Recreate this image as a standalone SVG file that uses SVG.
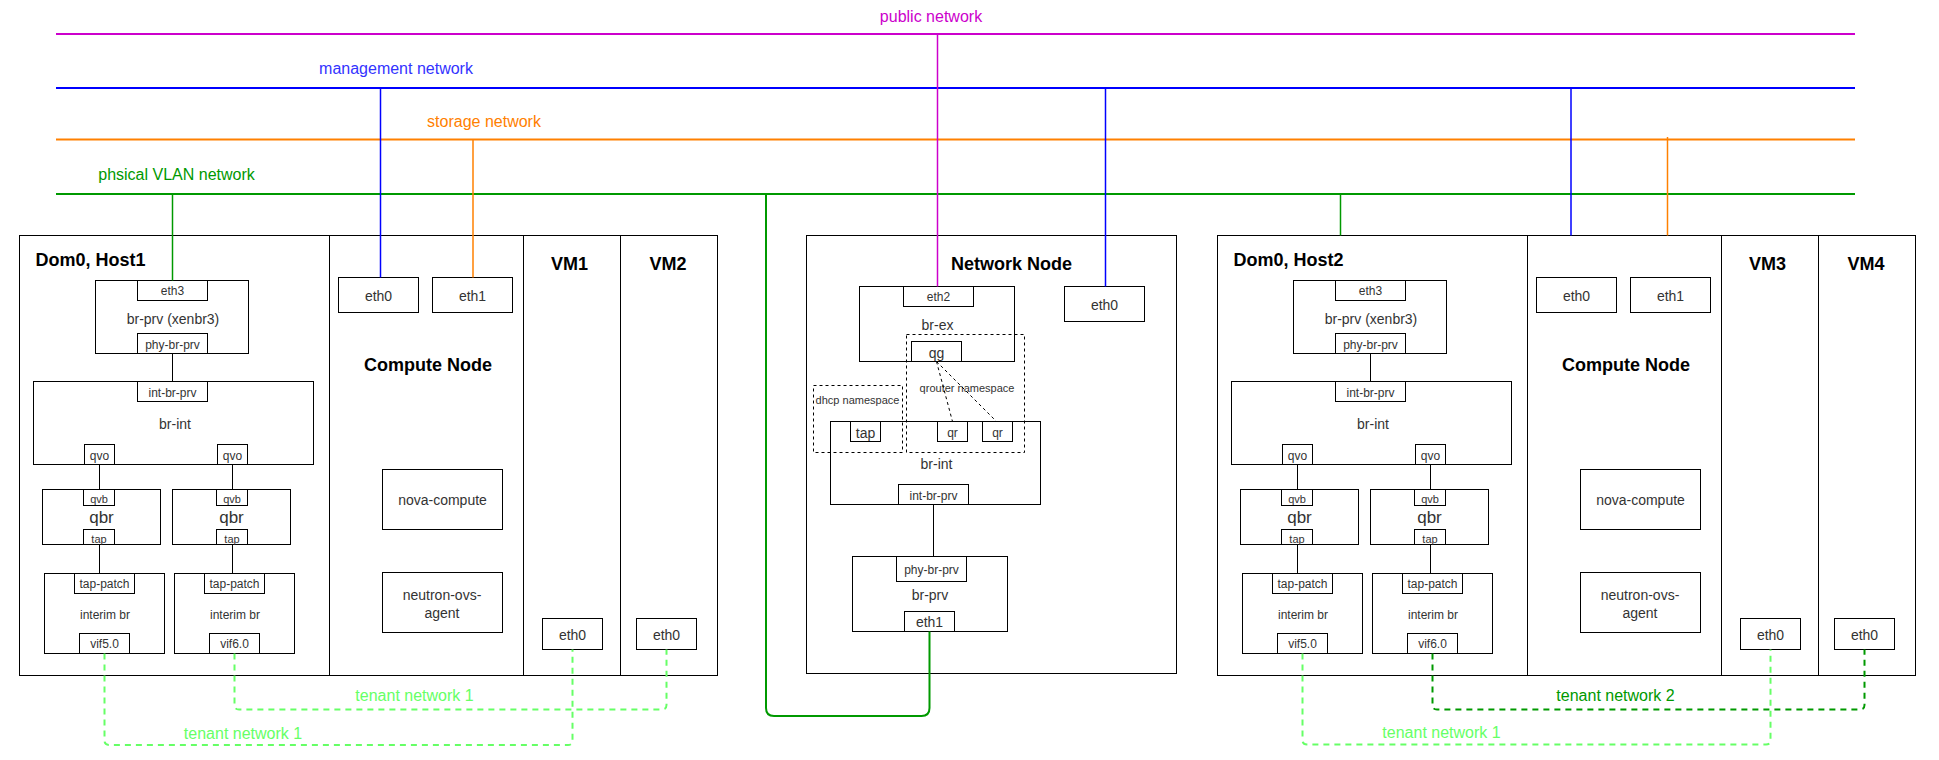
<svg xmlns="http://www.w3.org/2000/svg" width="1939" height="760" viewBox="0 0 1939 760">
<style>
.box{fill:#fff;stroke:#000;stroke-width:1}
.ns{fill:none;stroke:#000;stroke-width:1;stroke-dasharray:3 3}
.t{font-family:"Liberation Sans",Arial,sans-serif;fill:#333;text-anchor:middle;dominant-baseline:central;font-size:14px}
.p{font-size:12px}
.sm{font-size:11px}
.q{font-size:17px}
.h{font-size:18px;font-weight:bold;fill:#000}
.bus{font-size:16px}
.c{fill:none;stroke:#000;stroke-width:1}
.tn1{fill:none;stroke:#66FF66;stroke-width:2;stroke-dasharray:6 5}
.tn2{fill:none;stroke:#009900;stroke-width:2;stroke-dasharray:6 5}
</style>
<rect width="1939" height="760" fill="#fff"/>

<!-- Host 1 -->
<g id="host1-dom0">
<rect class="box" x="19.5" y="235.5" width="310" height="440"/>
<text class="t h" x="35.5" y="260" style="text-anchor:start">Dom0, Host1</text>
</g>
<g id="host1-compute">
<rect class="box" x="329.5" y="235.5" width="194" height="440"/>
<text class="t h" x="428" y="365">Compute Node</text>
</g>
<g id="host1-vm1">
<rect class="box" x="523.5" y="235.5" width="97" height="440"/>
<text class="t h" x="569.5" y="264">VM1</text>
</g>
<g id="host1-vm2">
<rect class="box" x="620.5" y="235.5" width="97" height="440"/>
<text class="t h" x="668" y="264">VM2</text>
</g>
<g id="h1-br-prv">
<rect class="box" x="95.5" y="280.5" width="153" height="73"/>
<text class="t" x="173" y="318.5">br-prv (xenbr3)</text>
<rect class="box" x="137.5" y="280.5" width="70" height="20"/>
<text class="t p" x="172.5" y="291">eth3</text>
<rect class="box" x="137.5" y="333.5" width="70" height="20"/>
<text class="t p" x="172.5" y="344.5">phy-br-prv</text>
</g>
<g id="h1-br-int">
<rect class="box" x="33.5" y="381.5" width="280" height="83"/>
<text class="t" x="175" y="424">br-int</text>
<rect class="box" x="137.5" y="381.5" width="70" height="20"/>
<text class="t p" x="172.5" y="392.5">int-br-prv</text>
<rect class="box" x="84.5" y="444.5" width="30" height="20"/>
<text class="t p" x="99.5" y="455.5">qvo</text>
<rect class="box" x="217.5" y="444.5" width="30" height="20"/>
<text class="t p" x="232.5" y="455.5">qvo</text>
</g>
<g id="h1-qbr1">
<rect class="box" x="42.5" y="489.5" width="118" height="55"/>
<text class="t q" x="101.5" y="517.5">qbr</text>
<rect class="box" x="83.5" y="489.5" width="31" height="16"/>
<text class="t sm" x="99" y="498.5">qvb</text>
<rect class="box" x="83.5" y="529.5" width="31" height="15"/>
<text class="t sm" x="99" y="538.5">tap</text>
</g>
<g id="h1-qbr2">
<rect class="box" x="172.5" y="489.5" width="118" height="55"/>
<text class="t q" x="231.5" y="517.5">qbr</text>
<rect class="box" x="216.5" y="489.5" width="31" height="16"/>
<text class="t sm" x="232" y="498.5">qvb</text>
<rect class="box" x="216.5" y="529.5" width="31" height="15"/>
<text class="t sm" x="232" y="538.5">tap</text>
</g>
<g id="h1-interim1">
<rect class="box" x="44.5" y="573.5" width="120" height="80"/>
<text class="t p" x="105" y="615">interim br</text>
<rect class="box" x="74.5" y="573.5" width="60" height="20"/>
<text class="t p" x="104.5" y="584">tap-patch</text>
<rect class="box" x="79.5" y="633.5" width="50" height="20"/>
<text class="t p" x="104.5" y="644">vif5.0</text>
</g>
<g id="h1-interim2">
<rect class="box" x="174.5" y="573.5" width="120" height="80"/>
<text class="t p" x="235" y="615">interim br</text>
<rect class="box" x="204.5" y="573.5" width="60" height="20"/>
<text class="t p" x="234.5" y="584">tap-patch</text>
<rect class="box" x="209.5" y="633.5" width="50" height="20"/>
<text class="t p" x="234.5" y="644">vif6.0</text>
</g>
<g id="h1-eth0">
<rect class="box" x="338.5" y="277.5" width="80" height="35"/>
<text class="t" x="378.5" y="296">eth0</text>
</g>
<g id="h1-eth1">
<rect class="box" x="432.5" y="277.5" width="80" height="35"/>
<text class="t" x="472.5" y="296">eth1</text>
</g>
<g id="h1-nova">
<rect class="box" x="382.5" y="469.5" width="120" height="60"/>
<text class="t" x="442.5" y="500">nova-compute</text>
</g>
<g id="h1-neutron">
<rect class="box" x="382.5" y="572.5" width="120" height="60"/>
<text class="t" x="442" y="594.5">neutron-ovs-</text>
<text class="t" x="442" y="612.5">agent</text>
</g>
<g id="vm1-eth0">
<rect class="box" x="542.5" y="618.5" width="60" height="31"/>
<text class="t" x="572.5" y="635">eth0</text>
</g>
<g id="vm2-eth0">
<rect class="box" x="636.5" y="618.5" width="60" height="31"/>
<text class="t" x="666.5" y="635">eth0</text>
</g>

<!-- Network Node -->
<g id="network-node">
<rect class="box" x="806.5" y="235.5" width="370" height="438"/>
<text class="t h" x="1011.5" y="263.5">Network Node</text>
</g>
<g id="nn-br-ex">
<rect class="box" x="859.5" y="286.5" width="155" height="75"/>
<text class="t" x="937.5" y="325">br-ex</text>
<rect class="box" x="903.5" y="286.5" width="70" height="20"/>
<text class="t p" x="938.5" y="297">eth2</text>
<rect class="box" x="911.5" y="341.5" width="50" height="20"/>
<text class="t" x="936.5" y="352.5">qg</text>
</g>
<g id="nn-br-int">
<rect class="box" x="830.5" y="421.5" width="210" height="83"/>
<text class="t" x="936.5" y="464">br-int</text>
<rect class="box" x="850.5" y="421.5" width="30" height="20"/>
<text class="t" x="865.5" y="432.5">tap</text>
<rect class="box" x="937.5" y="421.5" width="30" height="20"/>
<text class="t p" x="952.5" y="432.5">qr</text>
<rect class="box" x="982.5" y="421.5" width="30" height="20"/>
<text class="t p" x="997.5" y="432.5">qr</text>
<rect class="box" x="898.5" y="484.5" width="70" height="20"/>
<text class="t p" x="933.5" y="495.5">int-br-prv</text>
</g>
<g id="nn-br-prv">
<rect class="box" x="852.5" y="556.5" width="155" height="75"/>
<text class="t" x="930" y="595">br-prv</text>
<rect class="box" x="896.5" y="556.5" width="70" height="25"/>
<text class="t p" x="931.5" y="570">phy-br-prv</text>
<rect class="box" x="904.5" y="611.5" width="50" height="20"/>
<text class="t" x="929.5" y="622">eth1</text>
</g>
<g id="nn-eth0">
<rect class="box" x="1064.5" y="286.5" width="80" height="35"/>
<text class="t" x="1104.5" y="305">eth0</text>
</g>
<g id="qrouter-namespace">
<rect class="ns" x="906.5" y="334.5" width="118" height="118"/>
<text class="t sm" x="967" y="387.5">qrouter namespace</text>
</g>
<g id="dhcp-namespace">
<rect class="ns" x="813.5" y="385.5" width="89" height="67"/>
<text class="t sm" x="857.5" y="399.5">dhcp namespace</text>
</g>

<!-- Host 2 -->
<g transform="translate(1198 0)">
<g id="host2-dom0">
<rect class="box" x="19.5" y="235.5" width="310" height="440"/>
<text class="t h" x="35.5" y="260" style="text-anchor:start">Dom0, Host2</text>
</g>
<g id="host2-compute">
<rect class="box" x="329.5" y="235.5" width="194" height="440"/>
<text class="t h" x="428" y="365">Compute Node</text>
</g>
<g id="host2-vm3">
<rect class="box" x="523.5" y="235.5" width="97" height="440"/>
<text class="t h" x="569.5" y="264">VM3</text>
</g>
<g id="host2-vm4">
<rect class="box" x="620.5" y="235.5" width="97" height="440"/>
<text class="t h" x="668" y="264">VM4</text>
</g>
<g id="h2-br-prv">
<rect class="box" x="95.5" y="280.5" width="153" height="73"/>
<text class="t" x="173" y="318.5">br-prv (xenbr3)</text>
<rect class="box" x="137.5" y="280.5" width="70" height="20"/>
<text class="t p" x="172.5" y="291">eth3</text>
<rect class="box" x="137.5" y="333.5" width="70" height="20"/>
<text class="t p" x="172.5" y="344.5">phy-br-prv</text>
</g>
<g id="h2-br-int">
<rect class="box" x="33.5" y="381.5" width="280" height="83"/>
<text class="t" x="175" y="424">br-int</text>
<rect class="box" x="137.5" y="381.5" width="70" height="20"/>
<text class="t p" x="172.5" y="392.5">int-br-prv</text>
<rect class="box" x="84.5" y="444.5" width="30" height="20"/>
<text class="t p" x="99.5" y="455.5">qvo</text>
<rect class="box" x="217.5" y="444.5" width="30" height="20"/>
<text class="t p" x="232.5" y="455.5">qvo</text>
</g>
<g id="h2-qbr1">
<rect class="box" x="42.5" y="489.5" width="118" height="55"/>
<text class="t q" x="101.5" y="517.5">qbr</text>
<rect class="box" x="83.5" y="489.5" width="31" height="16"/>
<text class="t sm" x="99" y="498.5">qvb</text>
<rect class="box" x="83.5" y="529.5" width="31" height="15"/>
<text class="t sm" x="99" y="538.5">tap</text>
</g>
<g id="h2-qbr2">
<rect class="box" x="172.5" y="489.5" width="118" height="55"/>
<text class="t q" x="231.5" y="517.5">qbr</text>
<rect class="box" x="216.5" y="489.5" width="31" height="16"/>
<text class="t sm" x="232" y="498.5">qvb</text>
<rect class="box" x="216.5" y="529.5" width="31" height="15"/>
<text class="t sm" x="232" y="538.5">tap</text>
</g>
<g id="h2-interim1">
<rect class="box" x="44.5" y="573.5" width="120" height="80"/>
<text class="t p" x="105" y="615">interim br</text>
<rect class="box" x="74.5" y="573.5" width="60" height="20"/>
<text class="t p" x="104.5" y="584">tap-patch</text>
<rect class="box" x="79.5" y="633.5" width="50" height="20"/>
<text class="t p" x="104.5" y="644">vif5.0</text>
</g>
<g id="h2-interim2">
<rect class="box" x="174.5" y="573.5" width="120" height="80"/>
<text class="t p" x="235" y="615">interim br</text>
<rect class="box" x="204.5" y="573.5" width="60" height="20"/>
<text class="t p" x="234.5" y="584">tap-patch</text>
<rect class="box" x="209.5" y="633.5" width="50" height="20"/>
<text class="t p" x="234.5" y="644">vif6.0</text>
</g>
<g id="h2-eth0">
<rect class="box" x="338.5" y="277.5" width="80" height="35"/>
<text class="t" x="378.5" y="296">eth0</text>
</g>
<g id="h2-eth1">
<rect class="box" x="432.5" y="277.5" width="80" height="35"/>
<text class="t" x="472.5" y="296">eth1</text>
</g>
<g id="h2-nova">
<rect class="box" x="382.5" y="469.5" width="120" height="60"/>
<text class="t" x="442.5" y="500">nova-compute</text>
</g>
<g id="h2-neutron">
<rect class="box" x="382.5" y="572.5" width="120" height="60"/>
<text class="t" x="442" y="594.5">neutron-ovs-</text>
<text class="t" x="442" y="612.5">agent</text>
</g>
<g id="vm3-eth0">
<rect class="box" x="542.5" y="618.5" width="60" height="31"/>
<text class="t" x="572.5" y="635">eth0</text>
</g>
<g id="vm4-eth0">
<rect class="box" x="636.5" y="618.5" width="60" height="31"/>
<text class="t" x="666.5" y="635">eth0</text>
</g>
</g>

<!-- Network buses and connectors -->
<g id="connectors">
<line x1="56" y1="34" x2="1855" y2="34" stroke="#CC00CC" stroke-width="2"/>
<line x1="56" y1="88" x2="1855" y2="88" stroke="#0000FF" stroke-width="2"/>
<line x1="56" y1="139.5" x2="1855" y2="139.5" stroke="#FF8000" stroke-width="2"/>
<line x1="56" y1="194" x2="1855" y2="194" stroke="#009900" stroke-width="2"/>

<line x1="172.5" y1="194" x2="172.5" y2="280.5" stroke="#009900" stroke-width="1.5"/>
<line x1="380.5" y1="88" x2="380.5" y2="277.5" stroke="#0000FF" stroke-width="1.5"/>
<line x1="473" y1="139.5" x2="473" y2="277.5" stroke="#FF8000" stroke-width="1.5"/>
<line x1="937.5" y1="34" x2="937.5" y2="286.5" stroke="#CC00CC" stroke-width="1.5"/>
<line x1="1105.5" y1="88" x2="1105.5" y2="286.5" stroke="#0000FF" stroke-width="1.5"/>
<line x1="1340.5" y1="194" x2="1340.5" y2="235.5" stroke="#009900" stroke-width="1.5"/>
<line x1="1571" y1="88" x2="1571" y2="235.5" stroke="#0000FF" stroke-width="1.5"/>
<line x1="1667.5" y1="137" x2="1667.5" y2="235.5" stroke="#FF8000" stroke-width="1.5"/>
<path d="M766 194 V708 Q766 716 774 716 H921.5 Q929.5 716 929.5 708 V631.5" fill="none" stroke="#009900" stroke-width="2"/>

<path class="c" d="M172.5 353.5 V381.5 M99.5 464.5 V489.5 M232.5 464.5 V489.5 M99.5 544.5 V573.5 M232.5 544.5 V573.5"/>
<path class="c" d="M1370.5 353.5 V381.5 M1297.5 464.5 V489.5 M1430.5 464.5 V489.5 M1297.5 544.5 V573.5 M1430.5 544.5 V573.5"/>
<path class="c" d="M933.5 504.5 V556.5"/>
<path class="ns" d="M936.5 361.5 L952.5 421.5 M936.5 361.5 L996.5 421.5"/>

<path class="tn1" d="M234.5 653.5 V705 Q234.5 709.5 239 709.5 H662 Q666.5 709.5 666.5 705 V649.5"/>
<path class="tn1" d="M104.5 653.5 V740.5 Q104.5 745 109 745 H568 Q572.5 745 572.5 740.5 V649.5"/>
<path class="tn1" d="M1302.5 653.5 V740 Q1302.5 744.5 1307 744.5 H1766 Q1770.5 744.5 1770.5 740 V649.5"/>
<path class="tn2" d="M1432.5 653.5 V705 Q1432.5 709.5 1437 709.5 H1860 Q1864.5 709.5 1864.5 705 V649.5"/>
</g>

<g id="labels">
<text class="t bus" x="931" y="16" style="fill:#CC00CC">public network</text>
<text class="t bus" x="396" y="68.5" style="fill:#3333FF">management network</text>
<text class="t bus" x="484" y="121.5" style="fill:#FF8000">storage network</text>
<text class="t bus" x="176.5" y="174.5" style="fill:#009900">phsical VLAN network</text>
<text class="t bus" x="414.5" y="695.5" style="fill:#66FF66">tenant network 1</text>
<text class="t bus" x="243" y="733" style="fill:#66FF66">tenant network 1</text>
<text class="t bus" x="1441.5" y="732.5" style="fill:#66FF66">tenant network 1</text>
<text class="t bus" x="1615.5" y="695.5" style="fill:#009900">tenant network 2</text>
</g>
</svg>
